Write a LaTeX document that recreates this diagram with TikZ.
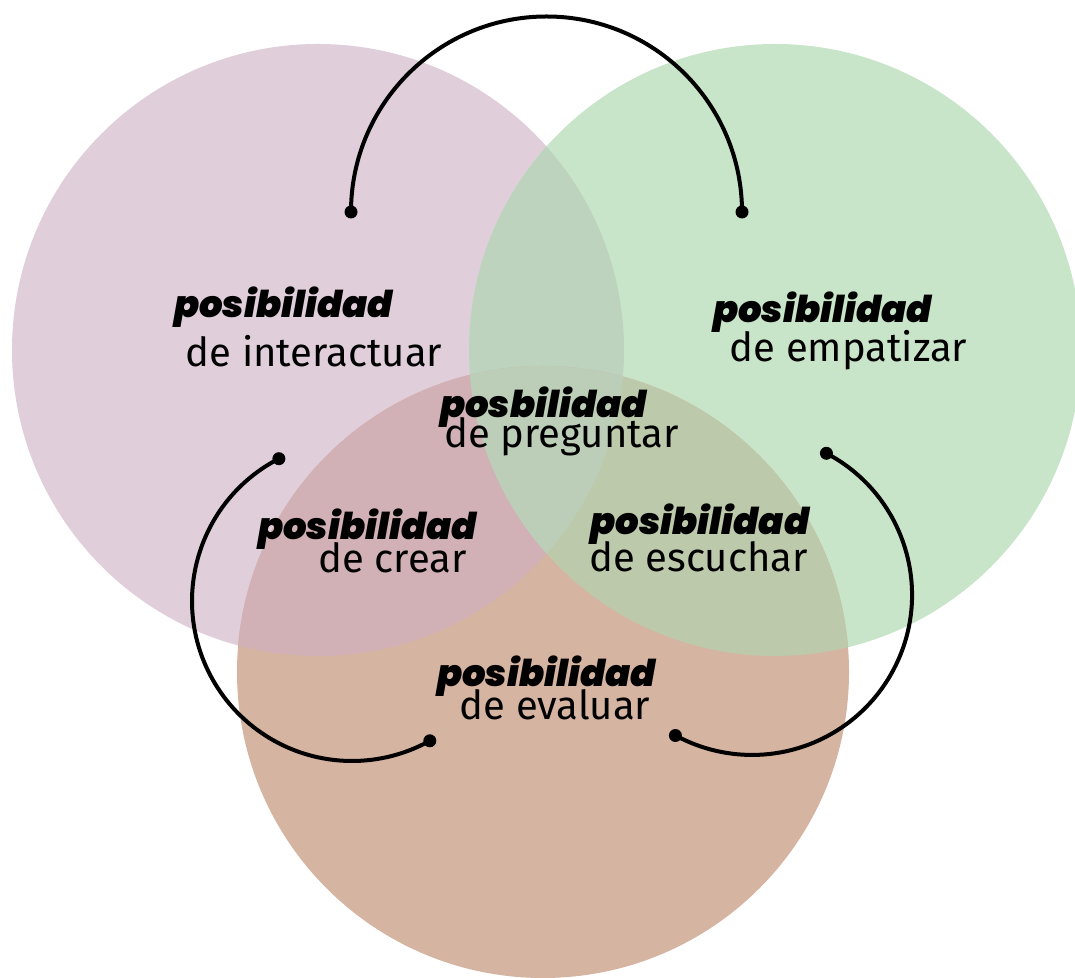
\documentclass[tikz,border=0pt]{standalone}
\usepackage{fontspec}
\setmainfont{Fira Sans}
\newfontfamily\hand{Poppins Black Italic}
\definecolor{cP}{HTML}{E0CEDA}
\definecolor{cG}{HTML}{C9E5C9}
\definecolor{cB}{HTML}{D6B4A2}
\definecolor{cPG}{HTML}{BDD3BD}
\definecolor{cPB}{HTML}{D1B1B5}
\definecolor{cGB}{HTML}{BCC9AB}
\definecolor{cPGB}{HTML}{BCCEB8}
\tikzset{
  hw/.style={font=\hand\fontsize{37}{37}\selectfont, anchor=base, inner sep=0pt},
  rg/.style={font=\fontsize{40}{40}\selectfont, anchor=base, inner sep=0pt},
  link/.style={line width=4pt, black},
  dot/.style={circle, fill=black, inner sep=0pt, minimum size=13pt}
}
\begin{document}
\begin{tikzpicture}[x=1pt,y=1pt]
\useasboundingbox (0,0) rectangle (1075,977);
\coordinate (cp) at (318,627);
\coordinate (cg) at (775,627);
\coordinate (cb) at (543,305);
% circles
\fill[cP] (cp) circle[radius=306];
\fill[cG] (cg) circle[radius=306];
\fill[cB] (cb) circle[radius=306];
\begin{scope}
  \clip (cp) circle[radius=306];
  \fill[cPG] (cg) circle[radius=306];
  \fill[cPB] (cb) circle[radius=306];
\end{scope}
\begin{scope}
  \clip (cg) circle[radius=306];
  \fill[cGB] (cb) circle[radius=306];
\end{scope}
\begin{scope}
  \clip (cp) circle[radius=306];
  \clip (cg) circle[radius=306];
  \fill[cPGB] (cb) circle[radius=306];
\end{scope}
% connector end points
\node[dot] (a1) at (351,765) {};
\node[dot] (a2) at (742,765) {};
\node[dot] (b1) at (278.9,518.3) {};
\node[dot] (b2) at (429.8,236.2) {};
\node[dot] (c1) at (826.4,523.7) {};
\node[dot] (c2) at (675.4,241.5) {};
\draw[link] (a1.center) arc[start angle=180, end angle=0, radius=195.5];
\draw[link] (b1.center) arc[start angle=117.2, end angle=299.1, radius=160];
\draw[link] (c1.center) arc[start angle=62.3, end angle=-118.6, radius=160];
% labels
\node[hw] (t1) at (283.5,659) {posibilidad};
\node[rg] (s1) at (314,610) {de interactuar};
\node[hw] (t2) at (543.5,559) {posbilidad};
\node[rg] (s2) at (561.5,529) {de preguntar};
\node[hw] (t3) at (822.5,654) {posibilidad};
\node[rg] (s3) at (848.5,615) {de empatizar};
\node[hw] (t4) at (367.5,437) {posibilidad};
\node[rg] (s4) at (392.5,404) {de crear};
\node[hw] (t5) at (700,442) {posibilidad};
\node[rg] (s5) at (698.5,405) {de escuchar};
\node[hw] (t6) at (546.5,290) {posibilidad};
\node[rg] (s6) at (555,257) {de evaluar};
\end{tikzpicture}
\end{document}
